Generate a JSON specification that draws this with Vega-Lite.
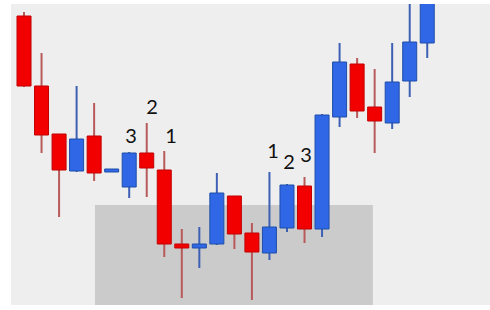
{
  "$schema": "https://vega.github.io/schema/vega-lite/v6.json",
  "width": 490,
  "height": 310,
  "autosize": {"type": "fit", "contains": "padding"},
  "padding": {"left": 11, "top": 4, "right": 0, "bottom": 5},
  "background": "#ffffff",
  "config": {"view": {"fill": "#eeeeee", "stroke": null}},
  "datasets": {
    "candles": [
      {"i": 0, "open": 289, "close": 219, "high": 293, "low": 218},
      {"i": 1, "open": 219, "close": 170, "high": 252, "low": 152},
      {"i": 2, "open": 171, "close": 135, "high": 171, "low": 88},
      {"i": 3, "open": 134, "close": 166, "high": 219, "low": 133},
      {"i": 4, "open": 169, "close": 132, "high": 202, "low": 124},
      {"i": 5, "open": 133, "close": 136, "high": 136, "low": 133},
      {"i": 6, "open": 118, "close": 152, "high": 153, "low": 107},
      {"i": 7, "open": 152, "close": 137, "high": 182, "low": 108},
      {"i": 8, "open": 135, "close": 61, "high": 154, "low": 48},
      {"i": 9, "open": 61, "close": 57, "high": 76, "low": 7},
      {"i": 10, "open": 57, "close": 61, "high": 78, "low": 37},
      {"i": 11, "open": 61, "close": 112, "high": 132, "low": 60},
      {"i": 12, "open": 109, "close": 71, "high": 109, "low": 56},
      {"i": 13, "open": 72, "close": 53, "high": 82, "low": 5},
      {"i": 14, "open": 52, "close": 78, "high": 133, "low": 45},
      {"i": 15, "open": 77, "close": 120, "high": 121, "low": 73},
      {"i": 16, "open": 119, "close": 76, "high": 128, "low": 62},
      {"i": 17, "open": 76, "close": 190, "high": 191, "low": 68},
      {"i": 18, "open": 188, "close": 243, "high": 262, "low": 178},
      {"i": 19, "open": 241, "close": 194, "high": 247, "low": 187},
      {"i": 20, "open": 198, "close": 184, "high": 236, "low": 152},
      {"i": 21, "open": 182, "close": 223, "high": 262, "low": 176},
      {"i": 22, "open": 224, "close": 263, "high": 310, "low": 208},
      {"i": 23, "open": 262, "close": 310, "high": 310, "low": 247}
    ],
    "zone": [{"x1": 4.05, "x2": 19.9, "y1": 0, "y2": 100}],
    "labels": [
      {"t": "3", "x": 6.1, "y": 168},
      {"t": "2", "x": 7.3, "y": 197},
      {"t": "1", "x": 8.39, "y": 168},
      {"t": "1", "x": 14.2, "y": 153},
      {"t": "2", "x": 15.12, "y": 142},
      {"t": "3", "x": 16.09, "y": 149}
    ]
  },
  "layer": [
    {
      "data": {"name": "zone"},
      "mark": {"type": "rect", "color": "#cbcbcb"},
      "encoding": {
        "x": {"field": "x1", "type": "quantitative", "scale": {"domain": [-0.742, 26.58], "nice": false, "zero": false, "padding": 0}, "axis": null},
        "x2": {"field": "x2"},
        "y": {"field": "y1", "type": "quantitative", "scale": {"domain": [0, 301], "nice": false, "zero": false, "padding": 0}, "axis": null},
        "y2": {"field": "y2"}
      }
    },
    {
      "data": {"name": "candles"},
      "mark": {"type": "rule", "strokeWidth": 2, "clip": true},
      "encoding": {
        "x": {"field": "i", "type": "quantitative"},
        "y": {"field": "low", "type": "quantitative"},
        "y2": {"field": "high"},
        "color": {"condition": {"test": "datum.open > datum.close", "value": "#b85a5a"}, "value": "#3d5fb4"}
      }
    },
    {
      "data": {"name": "candles"},
      "mark": {"type": "bar", "size": 14, "strokeWidth": 1, "clip": true},
      "encoding": {
        "x": {"field": "i", "type": "quantitative"},
        "y": {"field": "open", "type": "quantitative"},
        "y2": {"field": "close"},
        "fill": {"condition": {"test": "datum.open > datum.close", "value": "#f20000"}, "value": "#2f67e6"},
        "stroke": {"condition": {"test": "datum.open > datum.close", "value": "#c20000"}, "value": "#1f4ea8"}
      }
    },
    {
      "data": {"name": "labels"},
      "mark": {"type": "text", "font": "Lato", "fontSize": 20, "color": "#111111", "baseline": "middle", "align": "center"},
      "encoding": {
        "x": {"field": "x", "type": "quantitative"},
        "y": {"field": "y", "type": "quantitative"},
        "text": {"field": "t"}
      }
    }
  ]
}
